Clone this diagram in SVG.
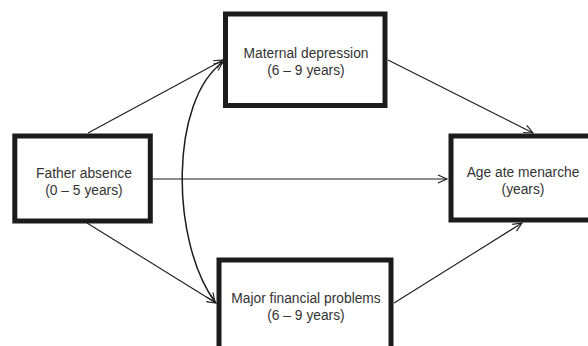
<svg xmlns="http://www.w3.org/2000/svg" width="588" height="346" viewBox="0 0 588 346">
<style>
.box{fill:#fff;stroke:#1c1c1c;stroke-width:5}
.lbl{font-family:"Liberation Sans",Arial,sans-serif;font-size:13.8px;fill:#333;text-anchor:middle}
.con{fill:none;stroke:#1c1c1c;stroke-width:1.1}
.curve{stroke-width:1.5}
</style>
<defs>
<marker id="arr" markerUnits="userSpaceOnUse" markerWidth="12" markerHeight="12" viewBox="-10 -6 12 12" refX="0" refY="0" orient="auto-start-reverse">
<polyline points="-9,-4 0,0 -9,4" fill="none" stroke="#1c1c1c" stroke-width="1.1"/>
</marker>
</defs>
<rect width="588" height="346" fill="#fff"/>
<g id="connectors">
<line class="con" x1="88" y1="133" x2="223" y2="60" marker-end="url(#arr)"/>
<line class="con" x1="87" y1="223" x2="216" y2="303" marker-end="url(#arr)"/>
<line class="con" x1="153" y1="179" x2="447" y2="179" marker-end="url(#arr)"/>
<line class="con" x1="388" y1="60" x2="533" y2="133" marker-end="url(#arr)"/>
<line class="con" x1="394" y1="303" x2="522" y2="223" marker-end="url(#arr)"/>
<path class="con curve" d="M223,62 C170,100 170,240 215,302" marker-start="url(#arr)" marker-end="url(#arr)"/>
</g>
<g id="father">
<rect class="box" x="14.8" y="136" width="135.5" height="85"/>
<text class="lbl" x="84" y="177.5">Father absence</text>
<text class="lbl" x="84" y="194.5">(0 – 5 years)</text>
</g>
<g id="maternal">
<rect class="box" x="225.5" y="14" width="159.5" height="91.5"/>
<text class="lbl" x="306" y="57.5">Maternal depression</text>
<text class="lbl" x="306" y="74.5">(6 – 9 years)</text>
</g>
<g id="menarche">
<rect class="box" x="451" y="136" width="150" height="84"/>
<text class="lbl" x="523" y="177">Age ate menarche</text>
<text class="lbl" x="523" y="194">(years)</text>
</g>
<g id="financial">
<rect class="box" x="219" y="260" width="172" height="95"/>
<text class="lbl" x="306" y="302.5">Major financial problems</text>
<text class="lbl" x="306" y="319.5">(6 – 9 years)</text>
</g>
</svg>
